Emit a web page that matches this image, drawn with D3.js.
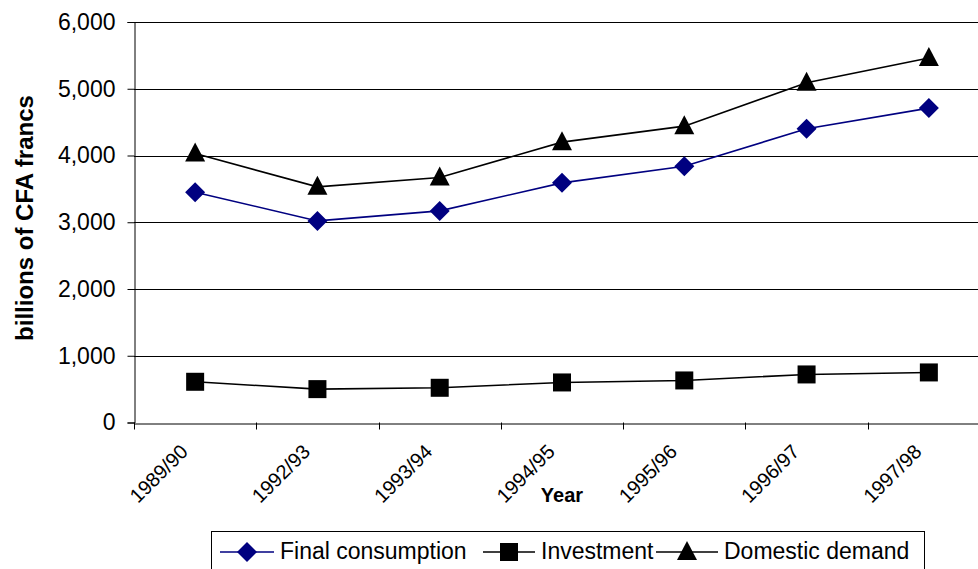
<!DOCTYPE html>
<html>
<head>
<meta charset="utf-8">
<script src="https://cdn.jsdelivr.net/npm/d3@7"></script>
<style>
  html, body { margin: 0; padding: 0; background: #fff; }
  svg { display: block; font-family: "Liberation Sans", Arial, sans-serif; }
</style>
</head>
<body>
<svg id="chart" width="978" height="569"></svg>
<script>
// data (billions of CFA francs)
const years = ["1989/90", "1992/93", "1993/94", "1994/95", "1995/96", "1996/97", "1997/98"];
const finalConsumption = [3450, 3020, 3170, 3590, 3840, 4400, 4710];
const investment = [610, 500, 520, 600, 630, 720, 750];
const domesticDemand = [4030, 3530, 3670, 4200, 4440, 5090, 5460];
const yTicks = [0, 1000, 2000, 3000, 4000, 5000, 6000];

const series = [
    {name: "Final consumption", values: finalConsumption, color: "#000080", marker: "diamond"},
    {name: "Investment", values: investment, color: "#000000", marker: "square"},
    {name: "Domestic demand", values: domesticDemand, color: "#000000", marker: "triangle"}
];

const svg = d3.select("#chart");

const plotLeft = 134, plotRight = 990, plotTop = 22, plotBottom = 422.5;

const x = d3.scaleBand().domain(years).range([plotLeft, plotRight]);
const y = d3.scaleLinear().domain([0, 6000]).range([plotBottom, plotTop]);

// gridlines
svg.append("g")
    .selectAll("line")
    .data(yTicks.filter(d => d > 0))
    .join("line")
    .attr("x1", plotLeft).attr("x2", plotRight)
    .attr("y1", d => Math.round(y(d)) + 0.5).attr("y2", d => Math.round(y(d)) + 0.5)
    .attr("stroke", "#000").attr("stroke-width", 1);

// y axis
const yAxis = svg.append("g")
    .attr("transform", "translate(" + (plotLeft + 0.5) + ",0)")
    .call(d3.axisLeft(y).tickValues(yTicks).tickSize(7).tickPadding(12).tickFormat(d3.format(",")));
yAxis.select(".domain").attr("stroke", "#000");
yAxis.selectAll(".tick line").attr("stroke", "#000");
yAxis.selectAll("text").attr("font-size", 23).attr("fill", "#000")
    .attr("font-family", "'Liberation Sans', Arial, sans-serif");

// x axis
const xAxis = svg.append("g")
    .attr("transform", "translate(0," + (Math.round(plotBottom) + 0.5) + ")")
    .call(d3.axisBottom(x).tickSize(0).tickFormat(""));
xAxis.select(".domain").attr("stroke", "#000");
xAxis.selectAll(".tick").remove();
svg.append("g")
    .selectAll("line")
    .data(years)
    .join("line")
    .attr("x1", d => Math.round(x(d)) + 0.5).attr("x2", d => Math.round(x(d)) + 0.5)
    .attr("y1", plotBottom).attr("y2", plotBottom + 7)
    .attr("stroke", "#000");

// rotated category labels
svg.append("g")
    .selectAll("text")
    .data(years)
    .join("text")
    .attr("transform", d => "translate(" + (x(d) + x.bandwidth() / 2 - 6) + ",453) rotate(-45)")
    .attr("text-anchor", "end")
    .attr("font-size", 20)
    .attr("fill", "#000")
    .text(d => d);

// axis titles
svg.append("text")
    .attr("x", 562).attr("y", 502)
    .attr("text-anchor", "middle")
    .attr("font-size", 20).attr("font-weight", "bold")
    .text("Year");

svg.append("text")
    .attr("transform", "translate(33,218) rotate(-90)")
    .attr("text-anchor", "middle")
    .attr("font-size", 24).attr("font-weight", "bold")
    .text("billions of CFA francs");

// markers
function drawMarker(g, type, color) {
    if (type === "diamond") {
        g.append("path").attr("d", "M0,-10L10,0L0,10L-10,0Z").attr("fill", color);
    } else if (type === "square") {
        g.append("rect").attr("x", -9).attr("y", -9).attr("width", 18).attr("height", 18).attr("fill", color);
    } else {
        g.append("path").attr("d", "M0,-11L10,8L-10,8Z").attr("fill", color);
    }
}

const line = d3.line()
    .x((d, i) => x(years[i]) + x.bandwidth() / 2)
    .y(d => y(d));

series.forEach(s => {
    svg.append("path")
        .datum(s.values)
        .attr("d", line)
        .attr("fill", "none")
        .attr("stroke", s.color)
        .attr("stroke-width", 1.6);
    s.values.forEach((v, i) => {
        const g = svg.append("g")
            .attr("transform", "translate(" + (x(years[i]) + x.bandwidth() / 2) + "," + y(v) + ")");
        drawMarker(g, s.marker, s.color);
    });
});

// legend
const legendItems = [
    {lineX: 220, textX: 280},
    {lineX: 483, textX: 541},
    {lineX: 656, textX: 724}
];
svg.append("rect")
    .attr("x", 211.5).attr("y", 531.5)
    .attr("width", 713).attr("height", 50)
    .attr("fill", "#fff").attr("stroke", "#000");

series.forEach((s, i) => {
    const li = legendItems[i];
    const g = svg.append("g");
    g.append("line")
        .attr("x1", li.lineX).attr("x2", li.textX - 6)
        .attr("y1", 552).attr("y2", 552)
        .attr("stroke", s.color).attr("stroke-width", 1.6);
    const m = g.append("g").attr("transform", "translate(" + ((li.lineX + li.textX - 6) / 2) + ",552)");
    drawMarker(m, s.marker, s.color);
    g.append("text")
        .attr("x", li.textX).attr("y", 559)
        .attr("font-size", 23)
        .attr("fill", "#000")
        .text(s.name);
});
</script>
</body>
</html>
